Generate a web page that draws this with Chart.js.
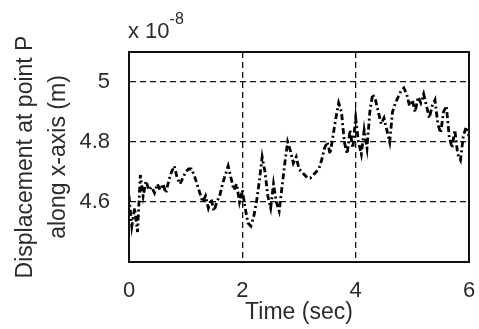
<!DOCTYPE html>
<html>
<head>
<meta charset="utf-8">
<script src="https://cdn.jsdelivr.net/npm/chart.js@4/dist/chart.umd.min.js"></script>
<style>
  html, body { margin: 0; padding: 0; background: #fff; overflow: hidden; }
  #wrap { width: 479px; height: 329px; position: relative; }
  canvas { display: block; }
</style>
</head>
<body>
<div id="wrap"><canvas id="dispChart"></canvas></div>
<script>
// time (sec) and displacement (x 10^-8 m)
const times = [
  0.00, 0.05, 0.10, 0.15, 0.20, 0.25, 0.30, 0.35, 0.40, 0.45,
  0.50, 0.55, 0.60, 0.65, 0.70, 0.75, 0.80, 0.85, 0.90, 0.95,
  1.00, 1.05, 1.10, 1.15, 1.20, 1.25, 1.30, 1.35, 1.40, 1.45,
  1.50, 1.55, 1.60, 1.65, 1.70, 1.75, 1.80, 1.85, 1.90, 1.95,
  2.00, 2.05, 2.10, 2.15, 2.20, 2.25, 2.30, 2.35, 2.40, 2.45,
  2.50, 2.55, 2.60, 2.65, 2.70, 2.75, 2.80, 2.85, 2.90, 2.95,
  3.00, 3.05, 3.10, 3.15, 3.20, 3.25, 3.30, 3.35, 3.40, 3.45,
  3.50, 3.55, 3.60, 3.65, 3.70, 3.75, 3.80, 3.85, 3.90, 3.95,
  4.00, 4.05, 4.10, 4.15, 4.20, 4.25, 4.30, 4.35, 4.40, 4.45,
  4.50, 4.55, 4.60, 4.65, 4.70, 4.75, 4.80, 4.85, 4.90, 4.95,
  5.00, 5.05, 5.10, 5.15, 5.20, 5.25, 5.30, 5.35, 5.40, 5.45,
  5.50, 5.55, 5.60, 5.65, 5.70, 5.75, 5.80, 5.85, 5.90, 5.95,
  6.00
];
const displacement = [
  4.62, 4.52, 4.58, 4.50, 4.69, 4.62, 4.67, 4.64, 4.65, 4.63,
  4.66, 4.64, 4.66, 4.63, 4.67, 4.70, 4.72, 4.68, 4.66, 4.68,
  4.70, 4.71, 4.71, 4.69, 4.66, 4.63, 4.60, 4.62, 4.58, 4.61,
  4.57, 4.60, 4.62, 4.66, 4.69, 4.72, 4.68, 4.64, 4.66, 4.60,
  4.64, 4.58, 4.53, 4.52, 4.55, 4.60, 4.67, 4.75, 4.70, 4.62,
  4.58, 4.66, 4.60, 4.57, 4.65, 4.73, 4.80, 4.77, 4.73, 4.75,
  4.71, 4.70, 4.69, 4.68, 4.68, 4.69, 4.70, 4.71, 4.74, 4.78,
  4.80, 4.76, 4.82, 4.88, 4.93, 4.90, 4.80, 4.76, 4.84, 4.78,
  4.88, 4.80, 4.76, 4.84, 4.78, 4.90, 4.96, 4.94, 4.90, 4.86,
  4.88, 4.84, 4.80, 4.90, 4.93, 4.95, 4.97, 4.98, 4.96, 4.92,
  4.94, 4.90, 4.95, 4.93, 4.96, 4.92, 4.88, 4.92, 4.94, 4.86,
  4.83, 4.90, 4.92, 4.82, 4.78, 4.84, 4.76, 4.74, 4.82, 4.85,
  4.82
];
const xTicks = [0, 2, 4, 6];
const yTicks = [4.6, 4.8, 5];

const FONT = "'Liberation Sans', Arial, sans-serif";
const TEXT = '#2b2b2b';

// outer box + exponent label, matlab style
const framePlugin = {
  id: 'frame',
  afterDraw(chart) {
    const { ctx, chartArea: a } = chart;
    ctx.save();
    ctx.strokeStyle = '#111';
    ctx.lineWidth = 2;
    ctx.strokeRect(a.left, a.top, a.right - a.left, a.bottom - a.top);
    ctx.fillStyle = TEXT;
    ctx.textBaseline = 'alphabetic';
    ctx.textAlign = 'left';
    ctx.font = '22px ' + FONT;
    ctx.fillText('x 10', a.left - 1, 38);
    const w = ctx.measureText('x 10').width;
    ctx.font = '16px ' + FONT;
    ctx.fillText('-8', a.left - 1 + w, 24);
    ctx.restore();
  }
};

const ctx = document.getElementById('dispChart').getContext('2d');
new Chart(ctx, {
  type: 'line',
  data: {
    datasets: [{
      data: times.map((t, i) => ({ x: t, y: displacement[i] })),
      borderColor: '#000',
      borderWidth: 2.8,
      borderDash: [6, 3, 2, 3],
      pointRadius: 0,
      tension: 0,
      fill: false,
    }],
  },
  options: {
    responsive: true,
    maintainAspectRatio: false,
    animation: false,
    layout: { padding: { top: 52, right: 10, left: 0, bottom: 0 } },
    plugins: { legend: { display: false }, tooltip: { enabled: false } },
    scales: {
      x: {
        type: 'linear',
        min: 0,
        max: 6,
        afterBuildTicks: scale => { scale.ticks = xTicks.map(v => ({ value: v })); },
        afterFit: scale => {
          scale.height = 67;
          scale.paddingLeft = 0;
          scale.paddingRight = 0;
        },
        grid: { color: '#111', lineWidth: 1.3, drawTicks: false },
        border: { display: true, color: '#111', width: 2, dash: [6, 4] },
        ticks: {
          font: { size: 22, family: FONT },
          color: TEXT,
          padding: 16,
          maxRotation: 0,
          callback: v => String(v),
        },
        title: {
          display: true,
          text: 'Time (sec)',
          font: { size: 23, family: FONT },
          color: TEXT,
          padding: { top: 0, bottom: 3 },
        },
      },
      y: {
        type: 'linear',
        min: 4.4,
        max: 5.1,
        afterBuildTicks: scale => { scale.ticks = yTicks.map(v => ({ value: v })); },
        afterFit: scale => {
          scale.width = 129;
          scale.paddingTop = 0;
          scale.paddingBottom = 0;
        },
        grid: { color: '#111', lineWidth: 1.3, drawTicks: false },
        border: { display: true, color: '#111', width: 2, dash: [6, 4] },
        ticks: {
          font: { size: 22, family: FONT },
          color: TEXT,
          padding: 19,
          callback: v => String(v),
        },
        title: {
          display: true,
          text: ['Displacement at point P', 'along x-axis (m)'],
          font: { size: 23, family: FONT, lineHeight: 1.45 },
          color: TEXT,
          padding: { top: 9, bottom: 0 },
        },
      },
    },
  },
  plugins: [framePlugin],
});
</script>
</body>
</html>
